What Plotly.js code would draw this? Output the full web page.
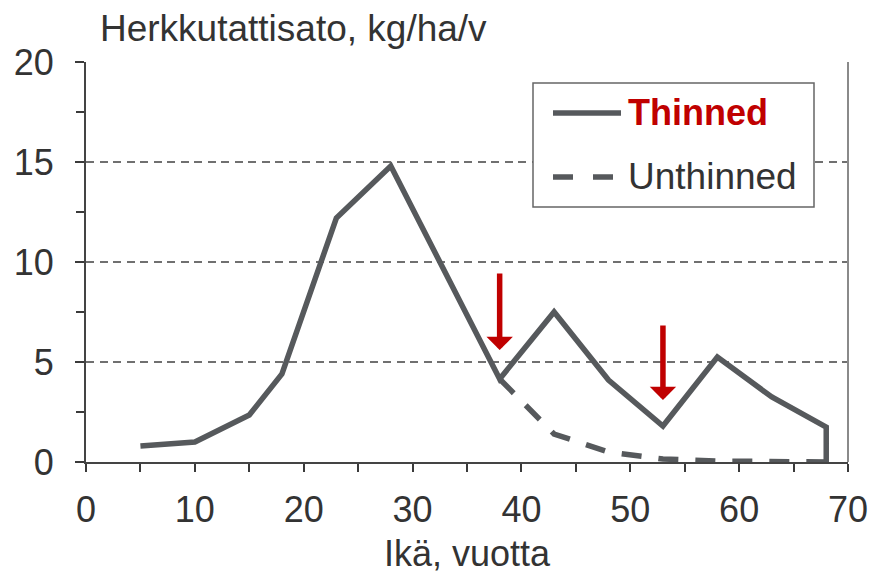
<!DOCTYPE html>
<html>
<head>
<meta charset="utf-8">
<script src="https://cdn.plot.ly/plotly-3.0.1.min.js"></script>
<style>html,body{margin:0;padding:0;background:#fff;}#chart{width:877px;height:574px;}</style>
</head>
<body>
<div id="chart"></div>
<script>
// Data
const thinnedAge = [5, 10, 15, 18, 23, 28, 38, 43, 48, 53, 58, 63, 68, 68];
const thinnedYield = [0.8, 1.0, 2.35, 4.4, 12.2, 14.8, 4.15, 7.5, 4.1, 1.8, 5.25, 3.25, 1.75, 0];
const unthinnedAge = [38, 43, 48, 53, 58, 63, 68];
const unthinnedYield = [4.15, 1.4, 0.5, 0.15, 0.05, 0.02, 0];
const thinningAges = [38, 53];
const arrowTop = [9.5, 6.9];
const arrowTip = [5.6, 3.1];
const seriesNames = ['Thinned', 'Unthinned'];
const xTicks = [0, 10, 20, 30, 40, 50, 60, 70];
const yTicks = [0, 5, 10, 15, 20];

const lineColor = '#56595c';
const red = '#C00000';
const textColor = '#333333';
const font = 'Liberation Sans, Arial, sans-serif';

const traces = [
  {x: thinnedAge, y: thinnedYield, type: 'scatter', mode: 'lines', name: seriesNames[0],
   line: {color: lineColor, width: 5.5}, showlegend: false, cliponaxis: false},
  {x: unthinnedAge, y: unthinnedYield, type: 'scatter', mode: 'lines', name: seriesNames[1],
   line: {color: lineColor, width: 5.5, dash: '20px,17px'}, showlegend: false, cliponaxis: false}
];

const annotations = thinningAges.map((a, i) => ({
  x: a, y: arrowTip[i], ax: a, ay: arrowTop[i], xref: 'x', yref: 'y', axref: 'x', ayref: 'y',
  showarrow: true, arrowhead: 1, arrowsize: 0.8, arrowwidth: 5.5, arrowcolor: red, text: ''
}));

// custom legend (paper coords)
const px = v => (v - 86) / 762;
const py = v => (462 - v) / 400;
annotations.push(
  {xref: 'paper', yref: 'paper', x: px(626), y: py(113), xanchor: 'left', yanchor: 'middle', showarrow: false,
   text: '<b>' + seriesNames[0] + '</b>', font: {family: font, size: 36, color: red}},
  {xref: 'paper', yref: 'paper', x: px(626), y: py(176), xanchor: 'left', yanchor: 'middle', showarrow: false,
   text: seriesNames[1], font: {family: font, size: 37, color: textColor}}
);

const shapes = [
  {type: 'rect', xref: 'paper', yref: 'paper', x0: px(533), x1: px(814), y0: py(207), y1: py(83),
   line: {color: '#666', width: 1.5}, fillcolor: '#fff', layer: 'above'},
  {type: 'line', xref: 'paper', yref: 'paper', x0: px(553), x1: px(621), y0: py(113), y1: py(113),
   line: {color: lineColor, width: 5.5}, layer: 'above'},
  {type: 'line', xref: 'paper', yref: 'paper', x0: px(553), x1: px(621), y0: py(177), y1: py(177),
   line: {color: lineColor, width: 5.5, dash: '20px,20px'}, layer: 'above'},
  {type: 'line', xref: 'paper', yref: 'paper', x0: 1, x1: 1, y0: 0, y1: 1,
   line: {color: '#8a8a8a', width: 2}}
];

const layout = {
  width: 877, height: 574,
  margin: {l: 86, r: 29, t: 62, b: 112, pad: 0},
  paper_bgcolor: '#fff', plot_bgcolor: '#fff',
  font: {family: font, size: 36, color: textColor},
  title: {text: 'Herkkutattisato, kg/ha/v', x: 0.114, xanchor: 'left', xref: 'container',
          y: 0.952, yanchor: 'middle', yref: 'container', font: {family: font, size: 37, color: textColor}},
  xaxis: {range: [0, 70], tickvals: xTicks, ticks: 'outside', ticklen: 8, tickwidth: 2, tickcolor: '#3a3a3a',
          showline: true, linecolor: '#444', linewidth: 2, showgrid: false, zeroline: false,
          ticklabelstandoff: 7,
          tickfont: {family: font, size: 36, color: textColor},
          minor: {dtick: 5, tick0: 0, ticks: 'outside', ticklen: 8, tickwidth: 2, tickcolor: '#3a3a3a', showgrid: false},
          title: {text: 'Ikä, vuotta', font: {family: font, size: 36, color: textColor}, standoff: 14}},
  yaxis: {range: [0, 20], tickvals: yTicks, ticks: 'outside', ticklen: 9, tickwidth: 2, tickcolor: '#3a3a3a',
          showline: true, linecolor: '#444', linewidth: 2, showgrid: true, gridcolor: '#707070', gridwidth: 2,
          griddash: '8px,5.5px', zeroline: false, ticklabelstandoff: 14,
          tickfont: {family: font, size: 36, color: textColor},
          minor: {dtick: 2.5, tick0: 0, ticks: 'outside', ticklen: 8, tickwidth: 2, tickcolor: '#3a3a3a', showgrid: false}},
  shapes: shapes,
  annotations: annotations,
  showlegend: false
};

Plotly.newPlot('chart', traces, layout, {displayModeBar: false, staticPlot: true});
</script>
</body>
</html>
